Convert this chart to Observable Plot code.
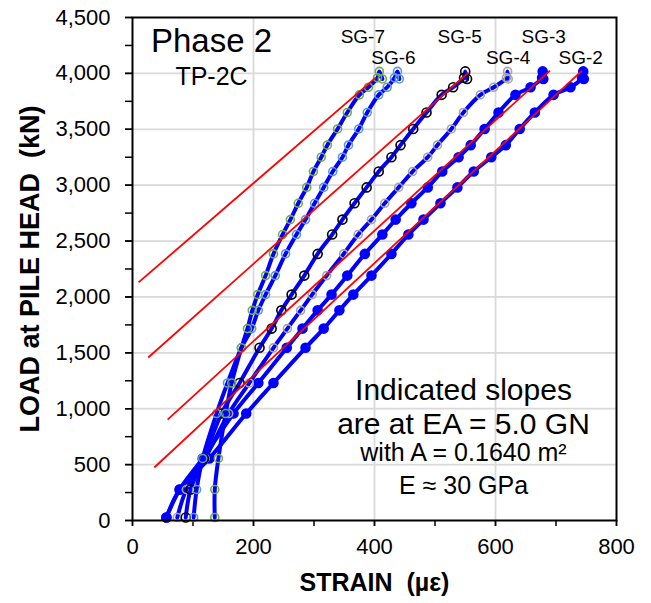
<!DOCTYPE html>
<html><head><meta charset="utf-8">
<script src="https://cdn.jsdelivr.net/npm/d3@7"></script>
<script src="https://cdn.jsdelivr.net/npm/@observablehq/plot@0.6"></script>
<style>
body{margin:0;background:#fff;}
#chart svg{display:block;}
</style>
</head><body><div id="chart"></div>
<script>
// Load steps (kN) at pile head
const loads = [27, 277, 555, 957, 1230, 1545, 1717, 1880, 2021, 2191, 2385, 2558, 2692, 2838, 2980, 3122, 3250, 3358, 3503, 3650, 3808, 3876, 3960, 4018, 3950];
// Strain (µε) per gauge, one value per load step
const sg2 = [56, 78, 127, 188, 233, 286, 316, 342, 365, 395, 428, 456, 481, 509, 537, 564, 593, 617, 640, 665, 696, 724, 743, 745, 746];
const sg3 = [56, 78, 116, 167, 208, 255, 281, 306, 329, 355, 384, 413, 435, 461, 488, 512, 539, 559, 582, 605, 633, 658, 677, 678, 679];
const sg4 = [74, 89, 120, 159, 193, 233, 256, 278, 297, 321, 349, 373, 395, 417, 440, 463, 488, 504, 527, 547, 575, 597, 618, 620, 621];
const sg5 = [88, 96, 118, 147, 177, 210, 230, 246, 263, 284, 306, 330, 347, 367, 387, 407, 428, 443, 464, 486, 511, 530, 548, 550, 553];
const sg6 = [101, 106, 116, 139, 157, 180, 197, 208, 220, 236, 253, 271, 286, 301, 316, 331, 347, 357, 374, 388, 407, 421, 433, 438, 441];
const sg7 = [136, 136, 142, 154, 164, 180, 190, 198, 207, 220, 233, 248, 261, 274, 288, 299, 312, 322, 339, 355, 375, 390, 405, 408, 413];
const seriesNames = ["SG-2", "SG-3", "SG-4", "SG-5", "SG-6", "SG-7"];

// Slope lines (EA = 5.0 GN), start and end points
const slopeStartStrain = [10, 26, 58, 36];
const slopeStartLoad = [2130, 1458, 903, 474];
const slopeEndStrain = [402, 555, 690, 743];
const slopeEndLoad = [3962, 4007, 4025, 4025];

const xTicks = [0, 200, 400, 600, 800];
const xMinorTicks = [0, 100, 200, 300, 400, 500, 600, 700, 800];
const yTicks = [0, 500, 1000, 1500, 2000, 2500, 3000, 3500, 4000, 4500];
const yMinorTicks = d3.range(0, 4501, 250);

const titleText = "Phase 2";
const subtitleText = "TP-2C";
const xLabel = "STRAIN \u00a0(µε)";
const yLabel = "LOAD at PILE HEAD \u00a0(kN)";
const noteLines = ["Indicated slopes", "are at EA = 5.0 GN", "with A = 0.1640 m²", "E ≈ 30 GPa"];

// ---- build tables
const strainBySeries = {"SG-2": sg2, "SG-3": sg3, "SG-4": sg4, "SG-5": sg5, "SG-6": sg6, "SG-7": sg7};
const rows = seriesNames.flatMap(name => strainBySeries[name].map((s, i) => ({series: name, strain: s, load: loads[i]})));
const slopes = slopeStartStrain.map((s, i) => ({x1: s, y1: slopeStartLoad[i], x2: slopeEndStrain[i], y2: slopeEndLoad[i]}));

const BLUE = "#0000ff";
const style = {
  "SG-2": {fill: BLUE, stroke: BLUE, r: 4.5, dx: -2.5, dy: -7},
  "SG-3": {fill: BLUE, stroke: BLUE, r: 4.5, dx: 1, dy: -28},
  "SG-4": {fill: "none", stroke: "#a6a6a6", r: 4, dx: 0.5, dy: -7},
  "SG-5": {fill: "none", stroke: "#000000", r: 4.5, dx: -5.5, dy: -28},
  "SG-6": {fill: "none", stroke: "#5b9bd5", r: 4, dx: -4, dy: -7},
  "SG-7": {fill: "none", stroke: "#70ad47", r: 4, dx: -16.5, dy: -28}
};

const FONT = "'Liberation Sans', Arial, Helvetica, sans-serif";

const marks = [
  Plot.gridX(xTicks.slice(1, -1), {stroke: "#d9d9d9", strokeOpacity: 1, strokeWidth: 1.8}),
  Plot.gridY(yTicks.slice(1, -1), {stroke: "#d9d9d9", strokeOpacity: 1, strokeWidth: 1.8}),
  Plot.axisX(xMinorTicks, {tickSize: 6, tickFormat: () => "", label: null, strokeWidth: 1.5}),
  Plot.axisX(xTicks, {tickSize: 6, tickPadding: 12, fontSize: 22, label: null, strokeWidth: 1.5}),
  Plot.axisY(yMinorTicks, {tickSize: 7, tickFormat: () => "", label: null, strokeWidth: 1.5}),
  Plot.axisY(yTicks, {tickSize: 7, tickPadding: 15, tickFormat: d3.format(","), fontSize: 22, label: null, strokeWidth: 1.5})
];

for (const name of seriesNames) {
  const data = rows.filter(d => d.series === name);
  marks.push(Plot.line(data, {x: "strain", y: "load", stroke: BLUE, strokeWidth: 4, curve: "catmull-rom", strokeLinejoin: "round"}));
  const st = style[name];
  marks.push(Plot.dot(data, {x: "strain", y: "load", r: st.r, fill: st.fill, stroke: st.stroke, strokeWidth: 1.6}));
}

marks.push(Plot.link(slopes, {x1: "x1", y1: "y1", x2: "x2", y2: "y2", stroke: "#ff0000", strokeWidth: 1.8}));
marks.push(Plot.frame({stroke: "black", strokeWidth: 2}));

// gauge labels above each curve's peak point
for (const name of seriesNames) {
  const data = rows.filter(d => d.series === name);
  const peak = data.reduce((a, b) => (b.load > a.load ? b : a));
  const st = style[name];
  marks.push(Plot.text([peak], {x: "strain", y: "load", text: () => name, dx: st.dx, dy: st.dy, lineAnchor: "bottom", textAnchor: "middle", fontSize: 19, fill: "black"}));
}

// annotations
marks.push(Plot.text([titleText], {text: d => d, frameAnchor: "top-left", dx: 79, dy: 11, lineAnchor: "top", textAnchor: "middle", fontSize: 33, fill: "black"}));
marks.push(Plot.text([subtitleText], {text: d => d, frameAnchor: "top-left", dx: 79, dy: 50, lineAnchor: "top", textAnchor: "middle", fontSize: 25, fill: "black"}));
const noteSizes = [30, 30, 25, 25];
const noteDy = [382, 416, 443, 476];
noteLines.forEach((t, i) => {
  marks.push(Plot.text([t], {text: d => d, frameAnchor: "top-left", dx: 331, dy: noteDy[i], lineAnchor: "bottom", textAnchor: "middle", fontSize: noteSizes[i], fill: "black"}));
});
marks.push(Plot.text([xLabel], {text: d => d, frameAnchor: "bottom", dy: 62, lineAnchor: "middle", textAnchor: "middle", fontSize: 25, fontWeight: "bold", fill: "black"}));
marks.push(Plot.text([yLabel], {text: d => d, frameAnchor: "left", dx: -102, rotate: -90, lineAnchor: "middle", textAnchor: "middle", fontSize: 27, fontWeight: "bold", fill: "black"}));

const chart = Plot.plot({
  width: 651,
  height: 603,
  marginLeft: 132,
  marginRight: 35,
  marginTop: 17,
  marginBottom: 83,
  x: {domain: [0, 800], axis: null},
  y: {domain: [0, 4500], axis: null},
  style: {fontFamily: FONT, background: "white", color: "black", overflow: "visible"},
  marks
});
document.getElementById("chart").appendChild(chart);
</script>
</body></html>
